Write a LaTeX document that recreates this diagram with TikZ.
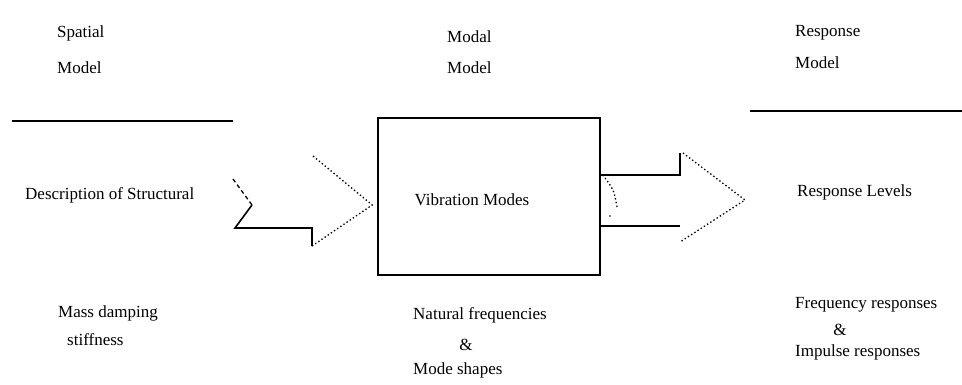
\documentclass[tikz,border=0pt]{standalone}
\usepackage{fontspec}
\setmainfont{Liberation Serif}
\usetikzlibrary{positioning}

\begin{document}
\begin{tikzpicture}[x=1pt, y=-1pt,
    every node/.style={font=\fontsize{17}{20}\selectfont, inner sep=0pt},
    vast/.style={line width=1.6pt},
    stip/.style={line width=1.3pt, dash pattern=on 1.4pt off 2.4pt},
    streep/.style={line width=1.3pt, dash pattern=on 4pt off 3pt}]
    \useasboundingbox (0,0) rectangle (962,385);
    % kopjes
    \node[anchor=west] (spatA) at (57,33) {Spatial};
    \node[anchor=west] (spatB) at (57,68) {Model};
    \node[anchor=west] (modA) at (447,37) {Modal};
    \node[anchor=west] (modB) at (447,68) {Model};
    \node[anchor=west] (respA) at (795,33) {Response};
    \node[anchor=west] (respB) at (795,63) {Model};
    % scheidingslijnen
    \draw[vast] (12,121) -- (233,121);
    \draw[vast] (750,111) -- (962,111);
    % middelste blok
    \node[draw, vast, minimum width=222pt, minimum height=157pt] (vib) at (489,196.5) {};
    \node (vibtxt) at (472,200) {Vibration Modes};
    % linkerkolom
    \node[anchor=west] (descr) at (25,195) {Description of Structural};
    \node[anchor=west] (massA) at (58,313) {Mass damping};
    \node[anchor=west] (massB) at (67,340) {stiffness};
    % middenkolom onder
    \node[anchor=west] (natA) at (413,315) {Natural frequencies};
    \node (natB) at (466,345) {\&};
    \node[anchor=west] (natC) at (413,370) {Mode shapes};
    % rechterkolom
    \node[anchor=west] (lev) at (797,192) {Response Levels};
    \node[anchor=west] (freqA) at (795,305) {Frequency responses};
    \node (freqB) at (840,330) {\&};
    \node[anchor=west] (freqC) at (795,352) {Impulse responses};
    % pijl links
    \coordinate (inkeep) at (252,205);
    \coordinate (ltip) at (vib.west |- inkeep);
    \draw[streep] (233,179) -- (inkeep);
    \draw[vast] (inkeep) -- (235,228) -- (312,228) -- (312,246);
    \draw[stip] (312,246) -- ([xshift=-5pt]ltip) -- (313,156);
    % pijl rechts
    \coordinate (rtop) at (vib.east |- 0,175);
    \coordinate (rbot) at (vib.east |- 0,226);
    \draw[vast] (rtop) -- (680,175) -- (680,153);
    \draw[vast] (rbot) -- (680,226);
    \draw[stip] (683,153) -- (745,200) -- (680,242);
    \draw[stip] ([xshift=2pt]rtop) .. controls (614,190) .. (617,207);
    \fill (610,216) circle (0.9pt);
\end{tikzpicture}
\end{document}
